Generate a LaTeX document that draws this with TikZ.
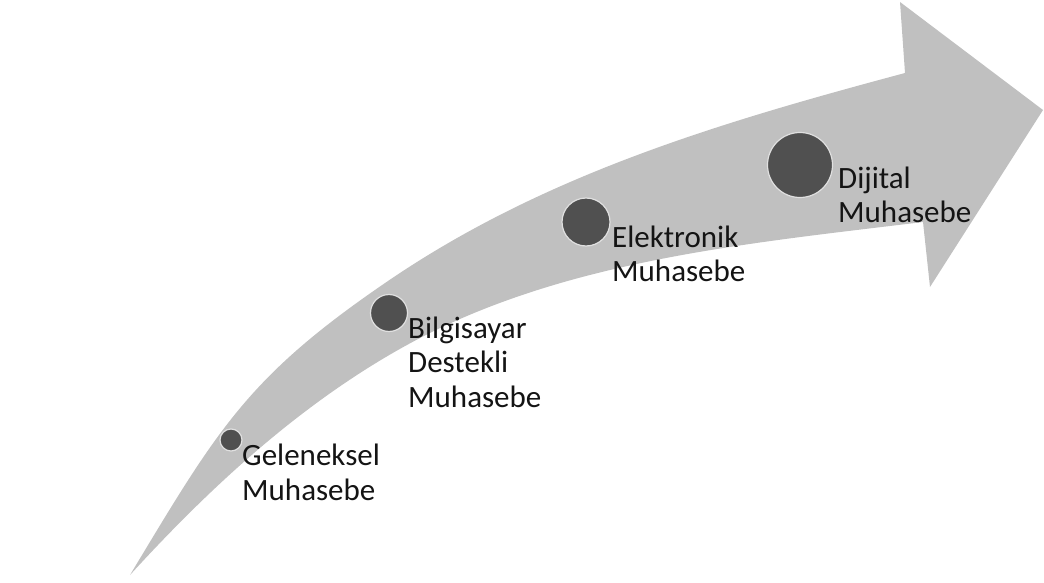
\documentclass[tikz,border=0pt]{standalone}
\usepackage{fontspec}
\setmainfont{Carlito}
\definecolor{arrowgray}{RGB}{192,192,192}
\definecolor{dotgray}{RGB}{80,80,80}
\definecolor{txtcol}{RGB}{20,20,20}
\begin{document}
\begin{tikzpicture}[x=1pt,y=-1pt,
  dot/.style={circle, fill=dotgray, draw=white!88!black, line width=1.2pt, inner sep=0pt},
  lbl/.style={anchor=base west, inner sep=0pt, align=left, text=txtcol, font=\fontsize{31}{34.5}\selectfont}]
\useasboundingbox (0,0) rectangle (1044,583);
\coordinate (tail) at (130,575);
\coordinate (um) at (388,281);
\coordinate (ue) at (905,73);
\coordinate (htop) at (900,2);
\coordinate (htip) at (1043,110);
\coordinate (hbot) at (930,287);
\coordinate (ls) at (923,222);
\coordinate (lm) at (420,338);
\fill[arrowgray]
  (tail) .. controls (218,429) and (247,377) .. (um)
  .. controls (545,174) and (722,122) .. (ue)
  -- (htop) -- (htip) -- (hbot) -- (ls)
  .. controls (752,243) and (573,259) .. (lm)
  .. controls (309,396) and (214,483) .. (tail)
  -- cycle;
\node[dot, minimum size=22pt] (c1) at (231,440) {};
\node[dot, minimum size=37pt] (c2) at (389,313) {};
\node[dot, minimum size=48pt] (c3) at (586,222) {};
\node[dot, minimum size=65pt] (c4) at (800,165) {};
\node[lbl] (t1) at (242,500) {Geleneksel\\Muhasebe};
\node[lbl] (t2) at (408,407) {Bilgisayar\\Destekli\\Muhasebe};
\node[lbl] (t3) at (612,281.5) {Elektronik\\Muhasebe};
\node[lbl] (t4) at (838,222.5) {Dijital\\Muhasebe};
\end{tikzpicture}
\end{document}
